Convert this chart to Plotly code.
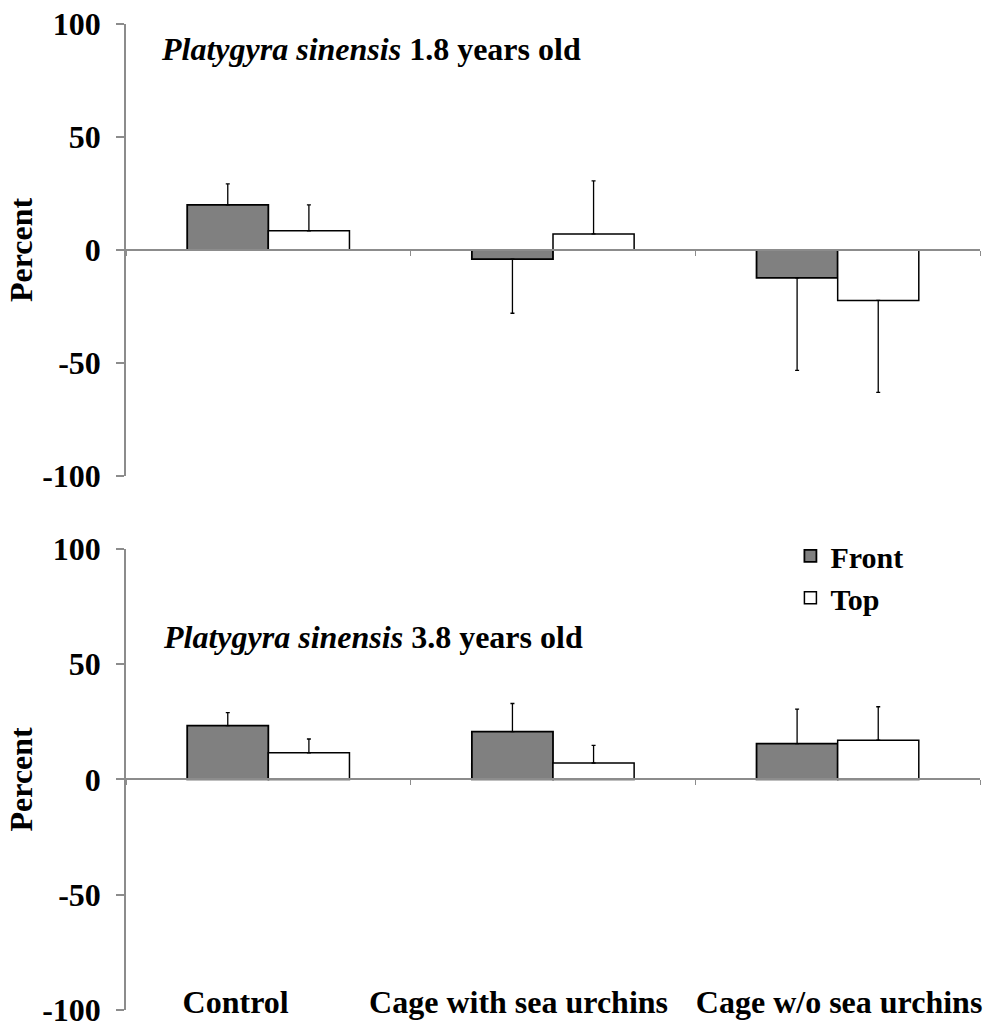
import plotly.graph_objects as go

# Treatments along the x axis
categories = ["Control", "Cage with sea urchins", "Cage w/o sea urchins"]

# Change (%) for colonies 1.8 years old
front_18 = [20.0, -4.0, -12.3]
front_18_err = [9.3, 24.0, 41.0]
top_18 = [8.5, 7.1, -22.3]
top_18_err = [11.5, 23.5, 40.7]

# Change (%) for colonies 3.8 years old
front_38 = [23.3, 20.7, 15.5]
front_38_err = [5.6, 12.2, 15.0]
top_38 = [11.5, 7.1, 17.0]
top_38_err = [6.0, 7.6, 14.5]

y_ticks = [-100, -50, 0, 50, 100]

FONT = "Liberation Serif"
AXIS_GREY = "#8c8c8c"
FRONT_FILL = "#808080"

# horizontal nudges of the category names so the long ones don't collide
LABEL_SHIFT = [-0.115, -0.121, 0.005]


def one_sided(values, errs):
    """Error bars pointing away from zero only."""
    up = [e if v >= 0 else 0 for v, e in zip(values, errs)]
    down = [e if v < 0 else 0 for v, e in zip(values, errs)]
    return dict(type="data", symmetric=False, array=up, arrayminus=down,
                color="black", thickness=1.3, width=2)


xs = list(range(len(categories)))

fig = go.Figure()

panels = [
    ("x", "y", front_18, front_18_err, top_18, top_18_err, False),
    ("x2", "y2", front_38, front_38_err, top_38, top_38_err, True),
]
for xa, ya, fv, fe, tv, te, legend in panels:
    fig.add_trace(go.Bar(
        x=xs, y=fv, name="Front", xaxis=xa, yaxis=ya,
        marker=dict(color=FRONT_FILL, line=dict(color="black", width=1.8)),
        error_y=one_sided(fv, fe), showlegend=legend,
    ))
    fig.add_trace(go.Bar(
        x=xs, y=tv, name="Top", xaxis=xa, yaxis=ya,
        marker=dict(color="white", line=dict(color="black", width=1.5)),
        error_y=one_sided(tv, te), showlegend=legend,
    ))

top_dom = [0.5416, 1.0]
bot_dom = [0.0, 0.4678]


def zero_pos(dom):
    return dom[0] + (dom[1] - dom[0]) / 2.0


bold32 = dict(family=FONT, size=32, color="black", weight="bold")

yaxis_common = dict(
    range=[-100, 100], tickvals=y_ticks, ticktext=[str(v) for v in y_ticks],
    showline=True, linecolor=AXIS_GREY, linewidth=1.5,
    ticks="outside", ticklen=8, tickcolor=AXIS_GREY, tickwidth=1.5,
    ticklabelstandoff=9, automargin=False, ticklabeloverflow="allow",
    showgrid=False, zeroline=False,
    tickfont=bold32,
    title=dict(text="Percent", standoff=0, font=bold32),
)

xline_common = dict(
    type="linear", range=[-0.5, 2.5], tickvals=[-0.5, 0.5, 1.5, 2.5],
    showticklabels=False, showgrid=False, zeroline=False, automargin=False,
    showline=True, linecolor=AXIS_GREY, linewidth=1.5,
    ticks="outside", ticklen=5, tickcolor=AXIS_GREY, tickwidth=1.2,
)

fig.update_layout(
    width=996, height=1028,
    margin=dict(l=126, r=16, t=24, b=18),
    paper_bgcolor="white", plot_bgcolor="white",
    barmode="group", bargap=0.43, bargroupgap=0.0,
    xaxis=dict(**xline_common, anchor="free", position=zero_pos(top_dom)),
    yaxis=dict(**yaxis_common, domain=top_dom, anchor="x"),
    xaxis2=dict(**xline_common, anchor="free", position=zero_pos(bot_dom)),
    yaxis2=dict(**yaxis_common, domain=bot_dom, anchor="x2"),
    # category names written near the foot of the lower panel
    xaxis3=dict(
        type="linear", range=[-0.5, 2.5], overlaying="x2",
        anchor="free", position=0.030, side="bottom",
        tickvals=[i + s for i, s in zip(xs, LABEL_SHIFT)],
        ticktext=categories, ticks="", tickangle=0,
        showline=False, showgrid=False, zeroline=False, automargin=False,
        ticklabeloverflow="allow", tickfont=bold32,
    ),
    legend=dict(
        x=0.778, y=0.487, xanchor="left", yanchor="top",
        font=dict(family=FONT, size=30, color="black", weight="bold"),
        bgcolor="rgba(0,0,0,0)", itemwidth=30, tracegroupgap=0,
    ),
)

# an invisible trace keeps the label axis active
fig.add_trace(go.Scatter(x=xs, y=[0, 0, 0], xaxis="x3", yaxis="y2",
                         mode="markers", marker=dict(opacity=0),
                         showlegend=False, hoverinfo="skip"))

fig.add_annotation(text="<i>Platygyra sinensis</i> 1.8 years old",
                   xref="paper", yref="paper", x=0.039, y=0.9746,
                   xanchor="left", yanchor="middle", showarrow=False,
                   font=bold32)
fig.add_annotation(text="<i>Platygyra sinensis</i> 3.8 years old",
                   xref="paper", yref="paper", x=0.041, y=0.378,
                   xanchor="left", yanchor="middle", showarrow=False,
                   font=bold32)

fig.write_html("out.html")
